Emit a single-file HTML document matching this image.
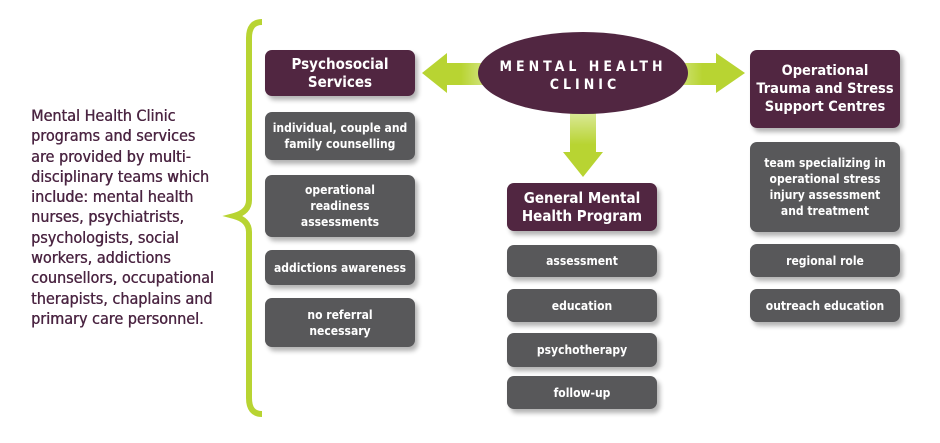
<!DOCTYPE html>
<html><head><meta charset="utf-8"><style>
body{margin:0;width:940px;height:443px;background:#fff;position:relative;overflow:hidden;font-family:"DejaVu Sans Condensed","Liberation Sans",sans-serif;}
.b{position:absolute;display:flex;align-items:center;justify-content:center;text-align:center;color:#fff;font-weight:bold;border-radius:7px;box-shadow:3px 4px 5px rgba(0,0,0,0.3);box-sizing:border-box;padding:0 6px;}
.h{background:#512641;font-size:15px;line-height:18px;}
.g{background:#58585a;font-size:12px;line-height:16px;}
#txt{position:absolute;left:31px;top:106px;color:#4b2542;font-size:16px;line-height:20.3px;font-family:"DejaVu Sans Condensed","Liberation Sans",sans-serif;text-shadow:0.4px 0 0 #4b2542;}
</style></head><body>
<svg width="940" height="443" style="position:absolute;left:0;top:0">
<defs>
<linearGradient id="gl" x1="1" y1="0" x2="0" y2="0"><stop offset="0" stop-color="#e3eeb0"/><stop offset="0.5" stop-color="#b8d432"/><stop offset="1" stop-color="#b8d432"/></linearGradient>
<linearGradient id="gr" x1="0" y1="0" x2="1" y2="0"><stop offset="0" stop-color="#e3eeb0"/><stop offset="0.5" stop-color="#b8d432"/><stop offset="1" stop-color="#b8d432"/></linearGradient>
<linearGradient id="gd" x1="0" y1="0" x2="0" y2="1"><stop offset="0" stop-color="#e3eeb0"/><stop offset="0.55" stop-color="#b8d432"/><stop offset="1" stop-color="#b8d432"/></linearGradient>
</defs>
<path d="M262,22 Q249,22 249,38 L249,200 Q249,212 234,216 Q249,220 249,232 L249,398 Q249,414 262,414" fill="none" stroke="#b8d432" stroke-width="6"/>
<polygon points="422,73 447,53 447,63 500,63 500,85 447,85 447,93" fill="url(#gl)"/>
<polygon points="660,63 716,63 716,53 745,73 716,93 716,85 660,85" fill="url(#gr)"/>
<polygon points="570,105 596,105 596,152 603,152 583,177 563,152 570,152" fill="url(#gd)"/>
<ellipse cx="583" cy="73" rx="105" ry="41" fill="#512641"/>
<text x="583" y="71" fill="#fff" font-family="DejaVu Sans Condensed, Liberation Sans, sans-serif" font-weight="bold" font-size="14" text-anchor="middle" letter-spacing="4">MENTAL HEALTH</text>
<text x="585" y="89" fill="#fff" font-family="DejaVu Sans Condensed, Liberation Sans, sans-serif" font-weight="bold" font-size="14" text-anchor="middle" letter-spacing="4">CLINIC</text>
</svg>
<div id="txt">Mental Health Clinic<br>programs and services<br>are provided by multi-<br>disciplinary teams which<br>include: mental health<br>nurses, psychiatrists,<br>psychologists, social<br>workers, addictions<br>counsellors, occupational<br>therapists, chaplains and<br>primary care personnel.</div>

<div class="b h" style="left:265px;top:50px;width:150px;height:46px">Psychosocial<br>Services</div>
<div class="b g" style="left:265px;top:112px;width:150px;height:48px">individual, couple and<br>family counselling</div>
<div class="b g" style="left:265px;top:175px;width:150px;height:62px">operational<br>readiness<br>assessments</div>
<div class="b g" style="left:265px;top:250px;width:150px;height:35px">addictions awareness</div>
<div class="b g" style="left:265px;top:298px;width:150px;height:49px">no referral<br>necessary</div>

<div class="b h" style="left:507px;top:183px;width:150px;height:48px">General Mental<br>Health Program</div>
<div class="b g" style="left:507px;top:245px;width:150px;height:32px">assessment</div>
<div class="b g" style="left:507px;top:289px;width:150px;height:33px">education</div>
<div class="b g" style="left:507px;top:333px;width:150px;height:34px">psychotherapy</div>
<div class="b g" style="left:507px;top:376px;width:150px;height:33px">follow-up</div>

<div class="b h" style="left:750px;top:50px;width:150px;height:78px;padding:0 2px;font-size:14.5px;white-space:nowrap">Operational<br>Trauma and Stress<br>Support Centres</div>
<div class="b g" style="left:750px;top:142px;width:150px;height:90px">team specializing in<br>operational stress<br>injury assessment<br>and treatment</div>
<div class="b g" style="left:750px;top:244px;width:150px;height:33px">regional role</div>
<div class="b g" style="left:750px;top:289px;width:150px;height:33px">outreach education</div>
</body></html>
